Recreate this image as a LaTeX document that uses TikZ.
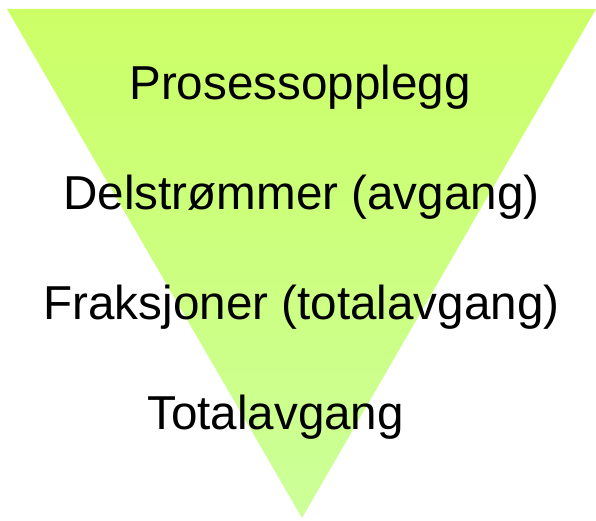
\documentclass[tikz,border=0pt]{standalone}
\usepackage{fontspec}
\setmainfont{Liberation Sans}
\begin{document}
\begin{tikzpicture}[x=1pt,y=1pt,
  lbl/.style={inner sep=0pt,font=\fontsize{47.6}{54}\selectfont,text=black}]
\useasboundingbox (0,0) rectangle (596,520);
\shade[top color={rgb,255:red,204;green,255;blue,102},bottom color={rgb,255:red,204;green,255;blue,153}]
  (7,511) -- (596,511) -- (302,2) -- cycle;
\node[lbl,anchor=base] (t1) at (300,420) {Prosessopplegg};
\node[lbl,anchor=base] (t2) at (301.5,310) {Delstrømmer (avgang)};
\node[lbl,anchor=base] (t3) at (301.5,201) {Fraksjoner (totalavgang)};
\node[lbl,anchor=base west] (t4) at (147,91) {Totalavgang};
\end{tikzpicture}
\end{document}
